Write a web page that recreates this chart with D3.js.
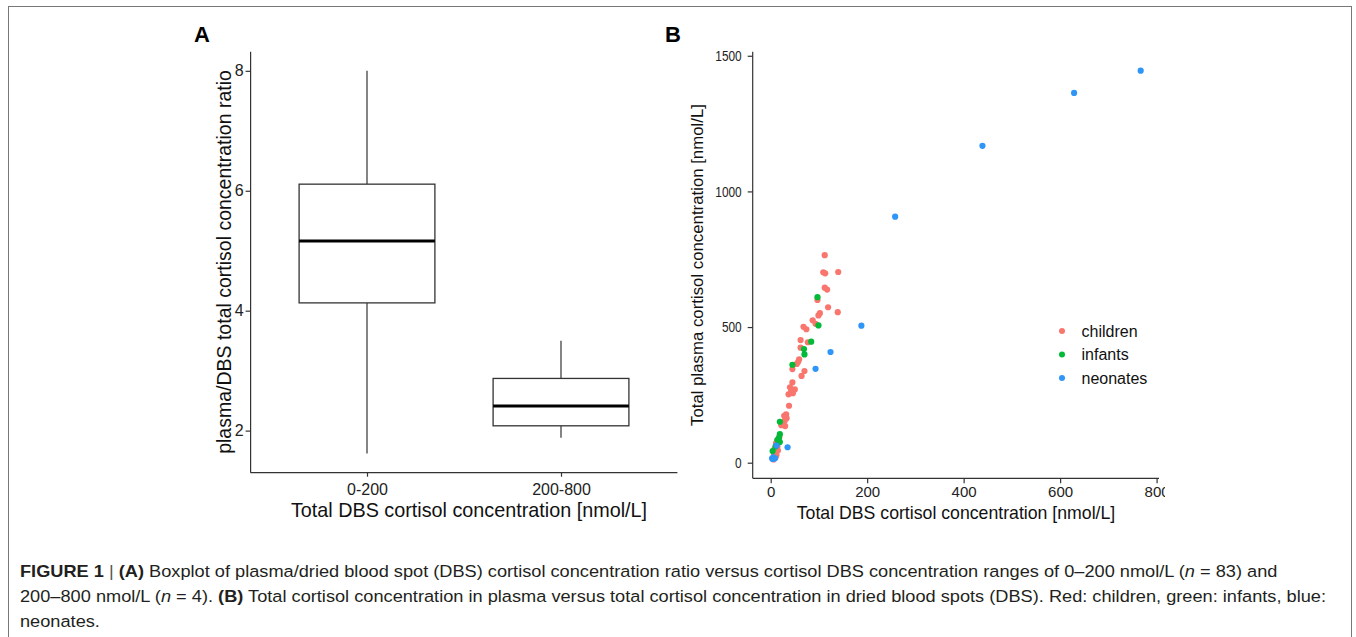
<!DOCTYPE html>
<html>
<head>
<meta charset="utf-8">
<script src="https://cdn.jsdelivr.net/npm/d3@7"></script>
<style>
  body { margin: 0; background: #fff; }
  svg { display: block; font-family: "Liberation Sans", Arial, sans-serif; }
</style>
</head>
<body>
<div id="chart"></div>
<script>
// panel A: boxplot summary values
var ranges = ["0-200", "200-800"];
var whiskerLow = [1.62, 1.88];
var q1 = [4.13, 2.08];
var medians = [5.16, 2.41];
var q3 = [6.11, 2.87];
var whiskerHigh = [8.0, 3.5];
var ratioTicks = [2, 4, 6, 8];

// panel B: [DBS, plasma] pairs per group
var groups = ["children", "infants", "neonates"];
var groupColors = ["#F8766D", "#00BA38", "#2F96F7"];
var children = [
    [112, 765], [109, 702], [113, 698], [140, 703], [112, 645], [117, 638], [97, 600],
    [119, 573], [139, 555], [102, 551], [99, 543], [87, 525], [93, 512], [68, 501],
    [74, 492], [62, 452], [77, 444], [62, 424], [59, 381], [57, 372], [54, 364],
    [45, 345], [70, 338], [64, 320], [45, 296], [40, 278], [50, 270], [42, 261],
    [46, 256], [37, 252], [38, 210], [32, 178], [28, 173], [33, 164], [29, 155],
    [25, 139], [30, 135], [22, 138], [11, 71], [14, 59], [9, 37], [12, 28], [8, 50],
    [15, 45], [10, 20], [7, 30], [13, 80], [18, 95], [6, 12]
];
var infants = [
    [97, 610], [99, 506], [84, 446], [69, 419], [70, 399], [45, 361], [19, 151],
    [19, 105], [17, 91], [14, 84], [19, 76], [4, 43], [10, 60]
];
var neonates = [
    [767, 1445], [629, 1363], [439, 1168], [258, 907], [188, 505], [124, 408],
    [93, 346], [35, 57], [12, 63], [5, 18], [9, 16], [3, 16], [6, 20], [4, 14]
];
var dbsTicks = [0, 200, 400, 600, 800];
var plasmaTicks = [0, 500, 1000, 1500];

var width = 1356, height = 637;
var axisColor = "#333";

var svg = d3.select("#chart").append("svg")
    .attr("width", width)
    .attr("height", height);

// figure frame
svg.append("rect")
    .attr("x", 8.5).attr("y", 6.5)
    .attr("width", 1343).attr("height", 640)
    .attr("fill", "none")
    .attr("stroke", "#777")
    .attr("stroke-width", 1);

function styleAxis(ax, size) {
    ax.select(".domain").attr("stroke", axisColor).attr("stroke-width", 1.2);
    ax.selectAll(".tick line").attr("stroke", axisColor).attr("stroke-width", 1.2);
    ax.selectAll(".tick text")
        .attr("fill", "#222")
        .style("font-size", size + "px")
        .style("font-family", "Liberation Sans, Arial, sans-serif");
}

// ---------- panel A ----------
var xA = d3.scalePoint().domain(ranges).range([250.6, 677.4]).padding(0.6);
var yA = d3.scaleLinear().domain([1.298, 8.319]).range([472.7, 51.7]);
var boxHalf = xA.step() * 0.35;

var gA = svg.append("g");

var yAxisA = gA.append("g")
    .attr("transform", "translate(250.6,0)")
    .call(d3.axisLeft(yA).tickValues(ratioTicks).tickSize(5).tickPadding(2).tickFormat(d3.format("d")));
var xAxisA = gA.append("g")
    .attr("transform", "translate(0,472.7)")
    .call(d3.axisBottom(xA).tickSize(4).tickPadding(7));

styleAxis(yAxisA, 16);
styleAxis(xAxisA, 16);
// keep only the axis line, no outer ticks
yAxisA.select(".domain").attr("d", "M0,472.7V51.7");
xAxisA.select(".domain").attr("d", "M250.6,0H677.4");

var boxes = gA.selectAll("g.box")
    .data(ranges)
    .enter().append("g")
    .attr("class", "box");

boxes.append("line")
    .attr("x1", function (d) { return xA(d); })
    .attr("x2", function (d) { return xA(d); })
    .attr("y1", function (d, i) { return yA(whiskerHigh[i]); })
    .attr("y2", function (d, i) { return yA(q3[i]); })
    .attr("stroke", axisColor).attr("stroke-width", 1.2);
boxes.append("line")
    .attr("x1", function (d) { return xA(d); })
    .attr("x2", function (d) { return xA(d); })
    .attr("y1", function (d, i) { return yA(q1[i]); })
    .attr("y2", function (d, i) { return yA(whiskerLow[i]); })
    .attr("stroke", axisColor).attr("stroke-width", 1.2);
boxes.append("rect")
    .attr("x", function (d) { return xA(d) - boxHalf; })
    .attr("width", boxHalf * 2)
    .attr("y", function (d, i) { return yA(q3[i]); })
    .attr("height", function (d, i) { return yA(q1[i]) - yA(q3[i]); })
    .attr("fill", "#fff")
    .attr("stroke", axisColor).attr("stroke-width", 1.3);
boxes.append("line")
    .attr("x1", function (d) { return xA(d) - boxHalf; })
    .attr("x2", function (d) { return xA(d) + boxHalf; })
    .attr("y1", function (d, i) { return yA(medians[i]); })
    .attr("y2", function (d, i) { return yA(medians[i]); })
    .attr("stroke", "#000").attr("stroke-width", 3);

gA.append("text")
    .attr("x", 469).attr("y", 517)
    .attr("text-anchor", "middle")
    .style("font-size", "19.8px")
    .attr("fill", "#111")
    .text("Total DBS cortisol concentration [nmol/L]");
gA.append("text")
    .attr("transform", "translate(231,262) rotate(-90)")
    .attr("text-anchor", "middle")
    .style("font-size", "19.5px")
    .attr("fill", "#111")
    .text("plasma/DBS total cortisol concentration ratio");
gA.append("text")
    .attr("x", 194).attr("y", 42)
    .style("font-size", "22px").style("font-weight", "bold")
    .text("A");

// ---------- panel B ----------
var xB = d3.scaleLinear().domain([-37.3, 805]).range([752.7, 1159]);
var yB = d3.scaleLinear().domain([-57.5, 1515]).range([478.3, 51.7]);

svg.append("defs").append("clipPath")
    .attr("id", "clipB")
    .append("rect")
    .attr("x", 600).attr("y", 0).attr("width", 565).attr("height", 540);

var gB = svg.append("g").attr("clip-path", "url(#clipB)");

var yAxisB = gB.append("g")
    .attr("transform", "translate(752.7,0)")
    .call(d3.axisLeft(yB).tickValues(plasmaTicks).tickSize(5).tickPadding(6).tickFormat(d3.format("d")));
var xAxisB = gB.append("g")
    .attr("transform", "translate(0,478.3)")
    .call(d3.axisBottom(xB).tickValues(dbsTicks).tickSize(5).tickPadding(3).tickFormat(d3.format("d")));

styleAxis(yAxisB, 15);
styleAxis(xAxisB, 15);
// the y tick labels of panel B are narrow in the reference
yAxisB.selectAll(".tick text")
    .attr("textLength", function (d) { return String(d).length * 6.6; })
    .attr("lengthAdjust", "spacingAndGlyphs");
yAxisB.select(".domain").attr("d", "M0,478.3V51.7");
xAxisB.select(".domain").attr("d", "M752.7,0H1159");

var seriesB = [children, infants, neonates];
seriesB.forEach(function (pts, gi) {
    gB.append("g")
        .selectAll("circle")
        .data(pts)
        .enter().append("circle")
        .attr("cx", function (d) { return xB(d[0]); })
        .attr("cy", function (d) { return yB(d[1]); })
        .attr("r", 3.1)
        .attr("fill", groupColors[gi]);
});

gB.append("text")
    .attr("x", 956).attr("y", 519)
    .attr("text-anchor", "middle")
    .style("font-size", "17.7px")
    .attr("fill", "#111")
    .text("Total DBS cortisol concentration [nmol/L]");
gB.append("text")
    .attr("transform", "translate(703,265) rotate(-90)")
    .attr("text-anchor", "middle")
    .style("font-size", "16.8px")
    .attr("fill", "#111")
    .text("Total plasma cortisol concentration [nmol/L]");
svg.append("text")
    .attr("x", 665).attr("y", 42)
    .style("font-size", "22px").style("font-weight", "bold")
    .text("B");

// legend
var legend = svg.append("g").selectAll("g")
    .data(groups)
    .enter().append("g")
    .attr("transform", function (d, i) { return "translate(1062," + (331 + i * 23.5) + ")"; });
legend.append("circle")
    .attr("r", 3)
    .attr("fill", function (d, i) { return groupColors[i]; });
legend.append("text")
    .attr("x", 19.5).attr("dy", "0.35em")
    .style("font-size", "16px")
    .attr("fill", "#111")
    .text(function (d) { return d; });

// ---------- caption ----------
var caption = svg.append("g")
    .attr("transform", "translate(20,0)")
    .style("font-size", "16.3px")
    .attr("fill", "#231f20");
var capInner = caption.append("g");

var line1 = capInner.append("text").attr("x", 0).attr("y", 577);
line1.append("tspan").style("font-weight", "bold").text("FIGURE 1 ");
line1.append("tspan").style("font-weight", "normal").attr("fill", "#555").text("|");
line1.append("tspan").style("font-weight", "bold").text("  (A)");
line1.append("tspan").text(" Boxplot of plasma/dried blood spot (DBS) cortisol concentration ratio versus cortisol DBS concentration ranges of 0\u2013200 nmol/L (");
line1.append("tspan").style("font-style", "italic").text("n");
line1.append("tspan").text(" = 83) and");

var line2 = capInner.append("text").attr("x", 0).attr("y", 602);
line2.append("tspan").text("200\u2013800 nmol/L (");
line2.append("tspan").style("font-style", "italic").text("n");
line2.append("tspan").text(" = 4). ");
line2.append("tspan").style("font-weight", "bold").text("(B)");
line2.append("tspan").text(" Total cortisol concentration in plasma versus total cortisol concentration in dried blood spots (DBS). Red: children, green: infants, blue:");

capInner.append("text").attr("x", 0).attr("y", 627).text("neonates.");

// the caption face in the reference is wider than Arial: stretch horizontally to the same line length
var w1 = line1.node().getComputedTextLength();
capInner.attr("transform", "scale(" + (1257 / w1) + ",1)");
</script>
</body>
</html>
